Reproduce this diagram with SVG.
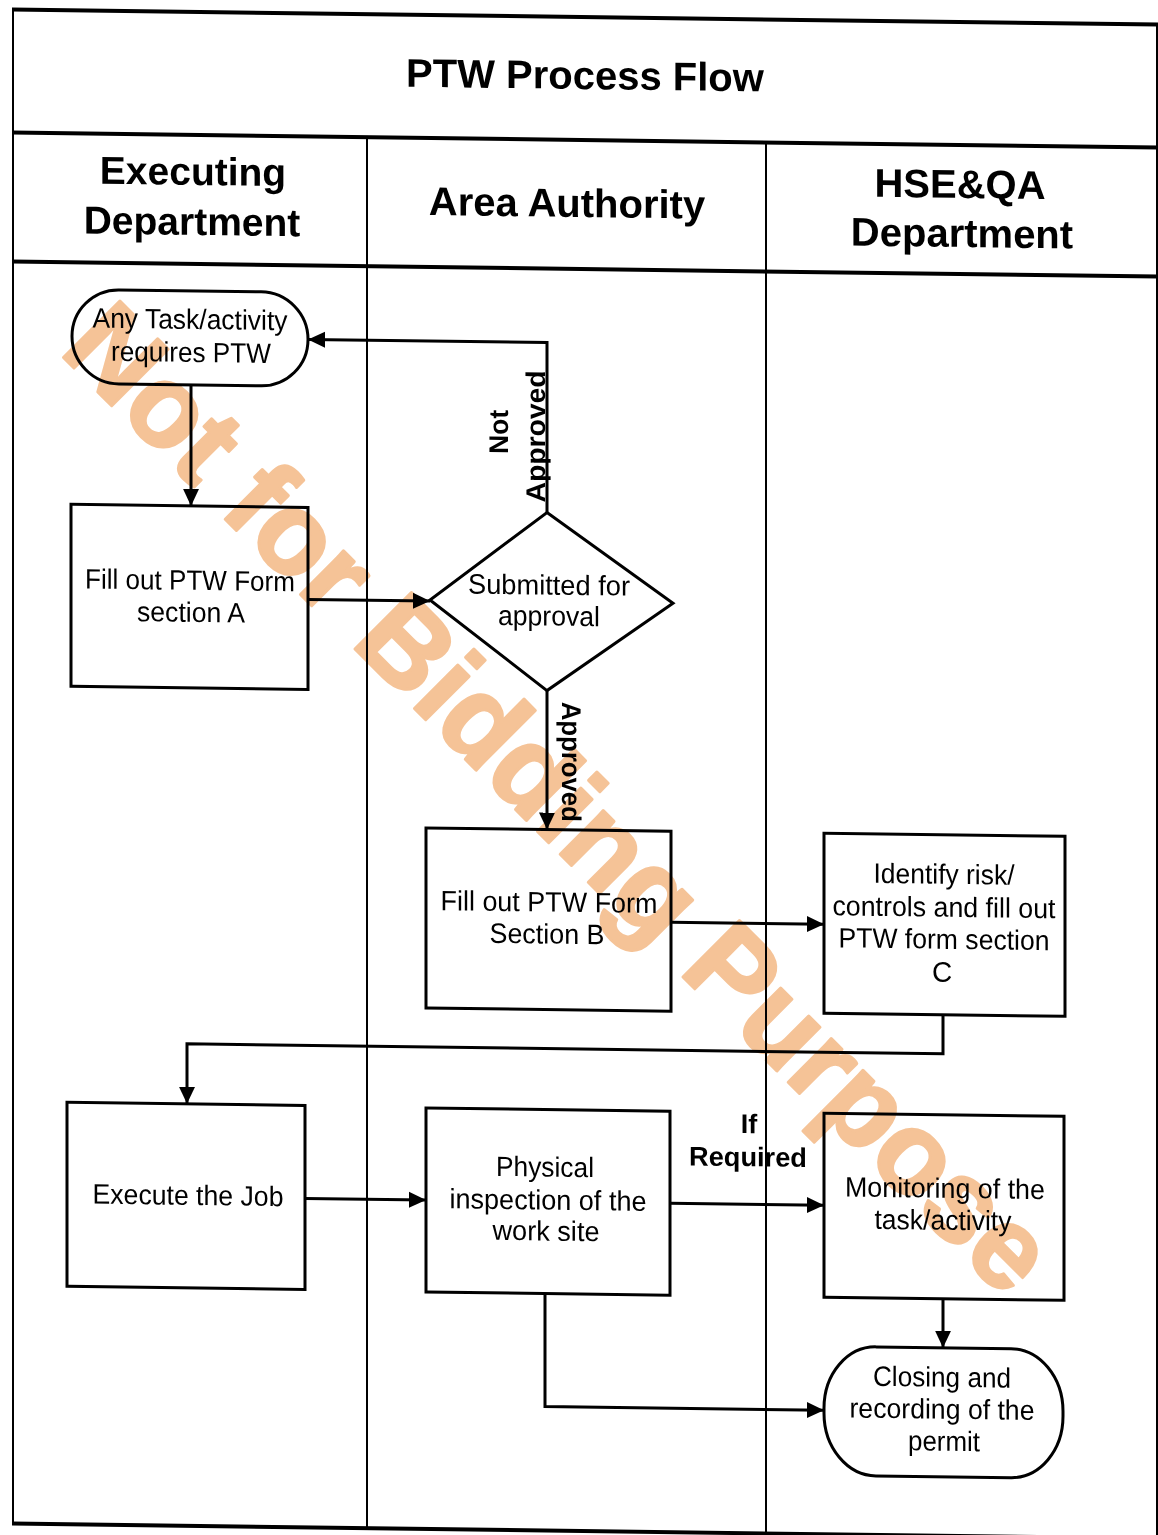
<svg xmlns="http://www.w3.org/2000/svg" width="1158" height="1535" viewBox="0 0 1158 1535">
<defs>
<style>
.frame{stroke:#000;stroke-width:4;fill:none}
.lane{stroke:#000;stroke-width:2;fill:none}
.box{stroke:#000;stroke-width:3;fill:#fff}
.conn{stroke:#000;stroke-width:3;fill:none;marker-end:url(#arr)}
.hd{font-family:"Liberation Sans",Arial,sans-serif;font-weight:bold;fill:#000;text-anchor:middle}
.t{font-family:"Liberation Sans",Arial,sans-serif;font-size:28px;fill:#000;text-anchor:middle}
.lb{font-family:"Liberation Sans",Arial,sans-serif;font-size:27px;font-weight:bold;fill:#000;text-anchor:middle}
.wm{font-family:"Liberation Sans",Arial,sans-serif;font-size:116px;font-weight:bold;fill:#f5c397;stroke:#f5c397;stroke-width:3;stroke-linejoin:round;mix-blend-mode:multiply}
</style>
<marker id="arr" markerUnits="userSpaceOnUse" markerWidth="18" markerHeight="18" refX="17" refY="9" orient="auto">
<path d="M0,1 L17,9 L0,17 z" fill="#000"/>
</marker>
</defs>
<rect x="0" y="0" width="1158" height="1535" fill="#fff"/>
<g transform="matrix(1,0.0131,0,1,0,-7.6)">
<g id="frame">
<line class="frame" x1="12" y1="17" x2="1160" y2="17"/>
<line class="frame" x1="12" y1="140" x2="1160" y2="140"/>
<line class="frame" x1="12" y1="269" x2="1160" y2="269"/>
<line class="frame" x1="12" y1="1531" x2="1160" y2="1531"/>
<line class="lane" x1="13" y1="17" x2="13" y2="1531"/>
<line class="lane" x1="367" y1="140" x2="367" y2="1531"/>
<line class="lane" x1="766" y1="140" x2="766" y2="1531"/>
<line class="lane" x1="1157" y1="17" x2="1157" y2="1531"/>
</g>
<g id="headers">
<text class="hd" x="585" y="89" font-size="40">PTW Process Flow</text>
<text class="hd" x="193" y="190" font-size="39">Executing</text>
<text class="hd" x="192" y="240" font-size="39">Department</text>
<text class="hd" x="567" y="217" font-size="40">Area Authority</text>
<text class="hd" x="960" y="193" font-size="40">HSE&amp;QA</text>
<text class="hd" x="962" y="242" font-size="40">Department</text>
</g>
<g id="connectors">
<path class="conn" d="M191,390 L191,511"/>
<path class="conn" d="M308,603 L430,603"/>
<path class="conn" d="M547,513 L547,343 L308,343"/>
<path class="conn" d="M547,691 L547,830"/>
<path class="conn" d="M671,921 L824,921"/>
<path class="conn" d="M943,1010 L943,1049 L187,1049 L187,1109"/>
<path class="conn" d="M305,1202 L426,1202"/>
<path class="conn" d="M670,1202 L824,1202"/>
<path class="conn" d="M943,1294 L943,1343"/>
<path class="conn" d="M545,1294 L545,1407 L824,1407"/>
<text class="lb" transform="translate(508,433) rotate(-90)" x="0" y="0" textLength="44" lengthAdjust="spacingAndGlyphs">Not</text>
<text class="lb" transform="translate(545,437) rotate(-90)" x="0" y="0" textLength="132" lengthAdjust="spacingAndGlyphs">Approved</text>
<text class="lb" transform="translate(562,762) rotate(90)" x="0" y="0" textLength="120" lengthAdjust="spacingAndGlyphs">Approved</text>
<text class="lb" x="749" y="1131">If</text>
<text class="lb" x="748" y="1164" textLength="118" lengthAdjust="spacingAndGlyphs">Required</text>
</g>
<g id="start">
<rect class="box" x="72" y="296" width="236" height="94" rx="47" ry="47"/>
<text class="t" x="190" y="334" textLength="195" lengthAdjust="spacingAndGlyphs">Any Task/activity</text>
<text class="t" x="191" y="367" textLength="160" lengthAdjust="spacingAndGlyphs">requires PTW</text>
</g>
<g id="formA">
<rect class="box" x="71" y="511" width="237" height="182"/>
<text class="t" x="190" y="595" textLength="210" lengthAdjust="spacingAndGlyphs">Fill out PTW Form</text>
<text class="t" x="191" y="627" textLength="108" lengthAdjust="spacingAndGlyphs">section A</text>
</g>
<g id="decision">
<polygon class="box" points="547,513 673,602 547,691 430,602"/>
<text class="t" x="549" y="595" textLength="162" lengthAdjust="spacingAndGlyphs">Submitted for</text>
<text class="t" x="549" y="626" textLength="102" lengthAdjust="spacingAndGlyphs">approval</text>
</g>
<g id="formB">
<rect class="box" x="426" y="830" width="245" height="180"/>
<text class="t" x="549" y="912" textLength="217" lengthAdjust="spacingAndGlyphs">Fill out PTW Form</text>
<text class="t" x="547" y="944" textLength="115" lengthAdjust="spacingAndGlyphs">Section B</text>
</g>
<g id="formC">
<rect class="box" x="824" y="830" width="241" height="180"/>
<text class="t" x="944" y="879" textLength="141" lengthAdjust="spacingAndGlyphs">Identify risk/</text>
<text class="t" x="944" y="912" textLength="223" lengthAdjust="spacingAndGlyphs">controls and fill out</text>
<text class="t" x="944" y="944" textLength="211" lengthAdjust="spacingAndGlyphs">PTW form section</text>
<text class="t" x="942" y="977">C</text>
</g>
<g id="execute">
<rect class="box" x="67" y="1109" width="238" height="184"/>
<text class="t" x="188" y="1210" textLength="191" lengthAdjust="spacingAndGlyphs">Execute the Job</text>
</g>
<g id="inspection">
<rect class="box" x="426" y="1110" width="244" height="184"/>
<text class="t" x="545" y="1177" textLength="98" lengthAdjust="spacingAndGlyphs">Physical</text>
<text class="t" x="548" y="1210" textLength="197" lengthAdjust="spacingAndGlyphs">inspection of the</text>
<text class="t" x="546" y="1241" textLength="107" lengthAdjust="spacingAndGlyphs">work site</text>
</g>
<g id="monitoring">
<rect class="box" x="824" y="1110" width="240" height="184"/>
<text class="t" x="945" y="1193" textLength="200" lengthAdjust="spacingAndGlyphs">Monitoring of the</text>
<text class="t" x="943" y="1225" textLength="137" lengthAdjust="spacingAndGlyphs">task/activity</text>
</g>
<g id="closing">
<rect class="box" x="824" y="1343" width="239" height="129" rx="52" ry="62"/>
<text class="t" x="942" y="1382" textLength="138" lengthAdjust="spacingAndGlyphs">Closing and</text>
<text class="t" x="942" y="1414" textLength="185" lengthAdjust="spacingAndGlyphs">recording of the</text>
<text class="t" x="944" y="1446" textLength="72" lengthAdjust="spacingAndGlyphs">permit</text>
</g>
</g>
<text class="wm" transform="translate(58,352) rotate(45)" x="0" y="0">Not for Bidding Purpose</text>
</svg>
